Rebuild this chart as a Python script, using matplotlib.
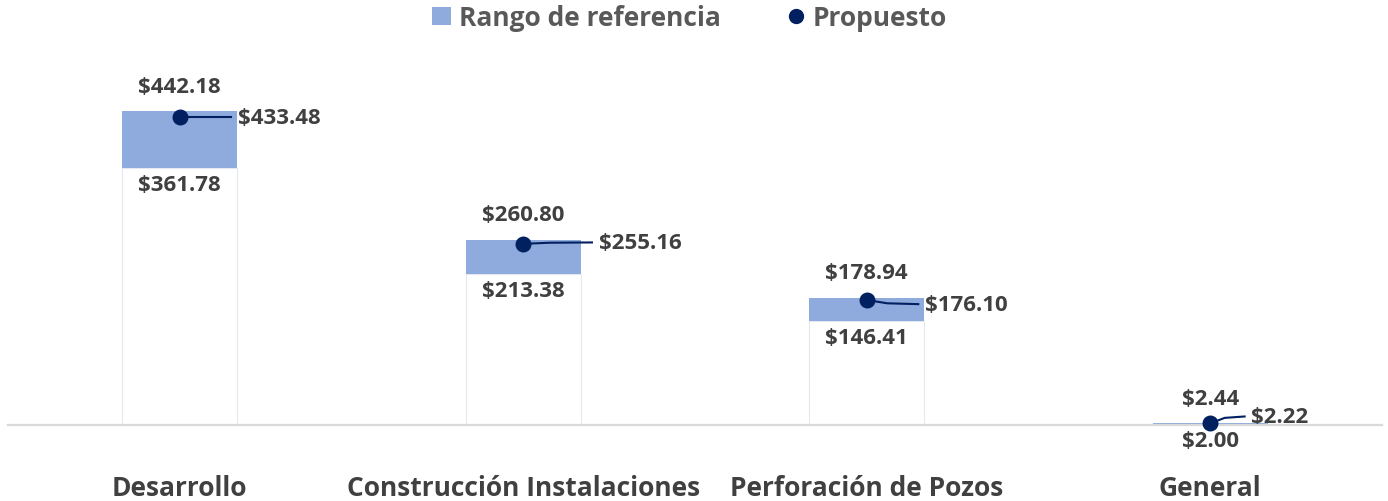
import numpy as np
import matplotlib.pyplot as plt
from matplotlib.lines import Line2D
from matplotlib.patches import Patch

# datos del gráfico
categorias = ['Desarrollo', 'Construcción Instalaciones', 'Perforación de Pozos', 'General']
minimo = [361.78, 213.38, 146.41, 2.00]
maximo = [442.18, 260.80, 178.94, 2.44]
propuesto = [433.48, 255.16, 176.10, 2.22]

# desplazamientos de la etiqueta del propuesto (x en unidades de categoría, y en puntos)
dx_etq = [0.17, 0.22, 0.17, 0.12]
dy_etq = [0, 1, -3, 5]

plt.rcParams['font.family'] = ['Open Sans', 'DejaVu Sans']
plt.rcParams['font.weight'] = 'bold'

fig = plt.figure(figsize=(13.88, 5.02), dpi=100)
ax = fig.add_axes([8/1388, 76/502, 1374/1388, 355/502])

x = np.arange(len(categorias))
ancho = 0.335
minimo = np.array(minimo)
maximo = np.array(maximo)
propuesto = np.array(propuesto)

# barra base invisible y barra del rango
ax.bar(x, minimo, width=ancho, color='white', edgecolor='#e4e8f0', linewidth=0.8, zorder=1)
ax.bar(x, maximo - minimo, bottom=minimo, width=ancho, color='#8faadc', zorder=2)

ax.set_xlim(-0.5, 3.5)
ax.set_ylim(0, 500)

for s in ['top', 'right', 'left']:
    ax.spines[s].set_visible(False)
ax.spines['bottom'].set_color('#d9d9d9')
ax.spines['bottom'].set_linewidth(1.6)
ax.spines['bottom'].set_zorder(3)
ax.set_yticks([])
ax.set_xticks(x)
ax.set_xticklabels(categorias, fontsize=19, color='#404040', fontweight='bold')
ax.tick_params(axis='x', length=0, pad=35)

for i in range(len(categorias)):
    # etiquetas max y min
    ax.annotate('$%.2f' % maximo[i], (x[i], maximo[i]), xytext=(0, 18), textcoords='offset points',
                ha='center', va='center', fontsize=16, color='#404040', fontweight='bold')
    ax.annotate('$%.2f' % minimo[i], (x[i], minimo[i]), xytext=(0, -12), textcoords='offset points',
                ha='center', va='center', fontsize=16, color='#404040', fontweight='bold')
    # linea guía y etiqueta del propuesto
    y_etq = propuesto[i] + dy_etq[i] / (0.71 * 72 / 100)
    xs = [x[i], x[i] + dx_etq[i] * 0.35, x[i] + dx_etq[i] - 0.02]
    ys = [propuesto[i], propuesto[i] + (y_etq - propuesto[i]) * 0.8, y_etq]
    ax.plot(xs, ys, color='#002060', linewidth=1.5, zorder=4)
    ax.text(x[i] + dx_etq[i], y_etq, '$%.2f' % propuesto[i], ha='left', va='center',
            fontsize=16, color='#404040', fontweight='bold')

ax.scatter(x, propuesto, s=110, color='#002060', zorder=5, clip_on=False)

handles = [Patch(facecolor='#8faadc', label='Rango de referencia'),
           Line2D([], [], marker='o', linestyle='none', color='#002060', markersize=10, label='Propuesto')]
fig.legend(handles=handles, loc='center', bbox_to_anchor=(0.497, 0.963), ncol=2, frameon=False,
           prop={'size': 19, 'weight': 'bold'}, labelcolor='#595959', handlelength=0.7,
           handletextpad=0.3, columnspacing=2.5)

fig.savefig('out.png', dpi=100)
